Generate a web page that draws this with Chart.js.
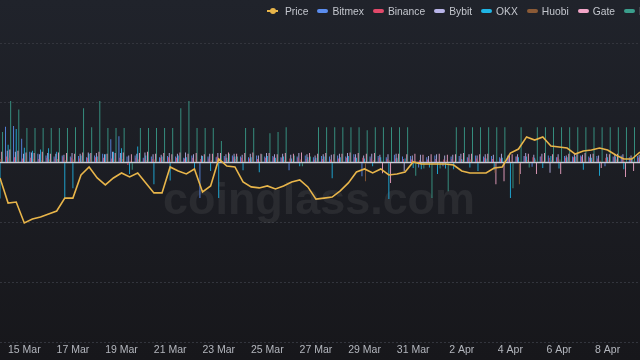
<!DOCTYPE html>
<html>
<head>
<meta charset="utf-8">
<script src="https://cdn.jsdelivr.net/npm/chart.js@4.4.1/dist/chart.umd.min.js"></script>
<style>
  html, body { margin: 0; padding: 0; }
  body {
    width: 640px; height: 360px; overflow: hidden;
    background: linear-gradient(#20232b, #17171b);
    font-family: "Liberation Sans", Arial, sans-serif;
  }
  #wrap { position: relative; width: 640px; height: 360px; }
  #legend {
    position: absolute; left: 267px; top: 3px; width: 373px; height: 16px;
    overflow: hidden; display: flex; align-items: center;
    font-size: 10.3px; color: #c3c6cd; white-space: nowrap;
  }
  .item { flex: none; display: flex; align-items: center; margin-right: 9px; }
  .box { width: 11px; height: 4px; border-radius: 2px; margin-right: 4px; }
  .pline { position: relative; width: 11px; height: 2px; margin-right: 7px; }
  .pline::after {
    content: ""; position: absolute; left: 3px; top: -2px; width: 6px; height: 6px;
    border-radius: 50%; background: inherit;
  }
</style>
</head>
<body>
<div id="wrap">
  <canvas id="graph"></canvas>
  <div id="legend"></div>
</div>
<script>
// 8時間ごとの区切り（14 Mar 00:00 から）
const startDate = new Date(2024, 2, 14);
const points = 80;
const categories = Array.from({ length: points }, (_, i) => {
  const d = new Date(startDate.getTime() + i * 8 * 3600 * 1000);
  const mon = d.toLocaleString("en-GB", { month: "short" });
  return `${d.getDate()} ${mon} ${String(d.getHours()).padStart(2, "0")}:00`;
});

// x軸に出すラベル（2日おき）
const tickLabels = ["15 Mar", "17 Mar", "19 Mar", "21 Mar", "23 Mar", "25 Mar", "27 Mar",
  "29 Mar", "31 Mar", "2 Apr", "4 Apr", "6 Apr", "8 Apr"];

const price = [
  68230, 66970, 67020, 65970, 66170, 66270, 66420, 66570, 67220, 67220,
  68380, 68780, 68230, 67880, 68230, 68480, 68280, 68480, 67980, 67480,
  67480, 68780, 68580, 68430, 68680, 67530, 67830, 69180, 68830, 68780,
  68030, 67780, 67730, 67830, 67680, 67830, 68030, 68130, 67780, 67170,
  67220, 67270, 67580, 67980, 68530, 68680, 68480, 68680, 68380, 68430,
  68530, 69030, 68930, 68930, 68930, 68930, 68880, 68580, 68480, 68480,
  68480, 68730, 68780, 69480, 69680, 70290, 70130, 70290, 69830, 69780,
  69730, 69430, 69580, 69630, 69730, 69630, 69380, 69180, 69180, 69530
];

const bitmex = [
  0.0012, 0.0060, 0.0061, 0.0040, 0.0018, 0.0015, 0.0012, 0.0010, 0.0012, 0.0010,
  0.0011, 0.0009, 0.0012, 0.0015, 0.0039, 0.0044, 0.0010, 0.0012, 0.0008, 0.0010,
  0.0009, 0.0011, 0.0010, 0.0008, 0.0012, -0.0059, 0.0010, 0.0009, 0.0011, 0.0012,
  0.0010, 0.0009, 0.0012, 0.0010, 0.0011, 0.0009, -0.0013, 0.0010, 0.0012, 0.0009,
  0.0011, 0.0010, 0.0012, 0.0010, 0.0014, -0.0023, 0.0010, 0.0011, 0.0009, 0.0013,
  0.0010, 0.0011, -0.0008, 0.0009, 0.0012, -0.0006, 0.0010, 0.0011, 0.0009, 0.0012,
  0.0010, 0.0011, 0.0009, 0.0012, 0.0010, 0.0011, -0.0007, 0.0010, 0.0012, 0.0009,
  0.0011, 0.0010, 0.0012, 0.0010, 0.0011, -0.0006, 0.0010, 0.0012, 0.0009, 0.0011
];
const binance = [
  0.0008, 0.0010, 0.0009, 0.0007, 0.0008, 0.0006, 0.0008, 0.0007, 0.0009, 0.0008,
  0.0007, 0.0008, 0.0009, 0.0008, 0.0007, 0.0008, -0.0004, 0.0008, 0.0007, 0.0006,
  0.0008, 0.0009, 0.0008, 0.0007, 0.0008, 0.0006, 0.0007, 0.0010, 0.0008, 0.0009,
  0.0008, 0.0007, 0.0006, 0.0008, 0.0009, 0.0008, 0.0007, 0.0008, 0.0006, 0.0005,
  0.0006, 0.0005, 0.0007, 0.0008, 0.0009, 0.0008, 0.0007, 0.0008, 0.0006, 0.0007,
  0.0006, 0.0005, 0.0004, 0.0005, 0.0006, 0.0005, 0.0006, 0.0007, 0.0008, 0.0007,
  0.0008, 0.0006, 0.0007, 0.0009, 0.0010, 0.0011, 0.0009, 0.0010, 0.0008, 0.0009,
  0.0008, 0.0009, 0.0010, 0.0008, 0.0007, 0.0008, 0.0009, 0.0008, 0.0007, 0.0008
];
const bybit = [
  0.0016, 0.0020, 0.0018, 0.0015, 0.0017, 0.0014, 0.0016, 0.0015, 0.0013, 0.0016,
  0.0015, 0.0017, 0.0016, 0.0014, 0.0018, 0.0016, 0.0012, 0.0015, 0.0017, 0.0014,
  0.0013, 0.0016, 0.0015, 0.0017, 0.0014, 0.0012, 0.0015, 0.0016, 0.0014, 0.0015,
  0.0013, 0.0015, 0.0012, 0.0016, 0.0014, 0.0015, 0.0013, 0.0016, 0.0014, 0.0012,
  0.0014, 0.0013, 0.0015, 0.0016, 0.0014, 0.0012, 0.0015, 0.0013, 0.0014, 0.0015,
  -0.0014, 0.0012, 0.0013, 0.0011, 0.0014, 0.0012, 0.0013, 0.0015, 0.0014, 0.0012,
  0.0014, 0.0013, 0.0015, 0.0012, 0.0014, 0.0016, 0.0013, 0.0015, -0.0017, 0.0014,
  0.0012, 0.0015, 0.0013, 0.0014, 0.0012, 0.0015, 0.0013, 0.0014, 0.0012, 0.0013
];
const okx = [
  -0.0060, 0.0030, 0.0056, 0.0025, 0.0020, 0.0022, 0.0024, 0.0018, -0.0059, -0.0043,
  0.0012, 0.0015, 0.0010, 0.0014, 0.0018, 0.0024, -0.0019, 0.0027, 0.0012, -0.0036,
  0.0010, -0.0030, 0.0012, 0.0009, -0.0009, 0.0011, -0.0014, -0.0059, 0.0008, 0.0010,
  -0.0013, 0.0009, -0.0016, 0.0011, 0.0008, 0.0010, 0.0007, -0.0006, 0.0009, 0.0008,
  0.0010, -0.0026, 0.0009, 0.0011, 0.0008, 0.0007, -0.0006, 0.0009, -0.0061, 0.0008,
  0.0007, -0.0009, -0.0011, -0.0008, -0.0019, -0.0010, -0.0011, 0.0006, -0.0008, -0.0014,
  0.0007, -0.0012, 0.0008, -0.0059, 0.0009, 0.0010, 0.0008, -0.0009, 0.0011, -0.0010,
  0.0009, 0.0010, -0.0012, 0.0008, -0.0022, 0.0009, 0.0010, -0.0011, 0.0008, 0.0009
];
const huobi = [
  0.0006, 0.0008, 0.0010, 0.0005, 0.0006, 0.0004, 0.0005, 0.0006, 0.0004, 0.0005,
  0.0004, 0.0005, 0.0006, 0.0004, 0.0005, 0.0006, 0.0003, 0.0005, 0.0004, 0.0005,
  0.0004, 0.0005, 0.0006, 0.0004, 0.0005, 0.0003, 0.0004, 0.0005, 0.0004, 0.0006,
  0.0004, 0.0005, 0.0003, 0.0004, 0.0005, 0.0004, 0.0003, 0.0005, 0.0004, 0.0003,
  0.0004, 0.0003, 0.0005, 0.0004, 0.0003, -0.0031, 0.0004, 0.0003, 0.0004, 0.0005,
  0.0003, 0.0004, 0.0003, 0.0004, 0.0003, 0.0004, 0.0003, 0.0004, 0.0005, 0.0003,
  0.0004, -0.0017, 0.0003, 0.0004, -0.0036, 0.0004, 0.0005, 0.0003, 0.0004, 0.0005,
  0.0004, 0.0003, 0.0005, 0.0004, 0.0003, 0.0004, 0.0005, 0.0003, 0.0004, 0.0005
];
const gate = [
  0.0018, 0.0022, 0.0020, 0.0017, 0.0016, 0.0018, 0.0015, 0.0017, 0.0016, 0.0015,
  0.0017, 0.0016, 0.0018, 0.0015, 0.0016, 0.0017, 0.0014, 0.0016, 0.0018, 0.0015,
  0.0016, 0.0014, 0.0017, 0.0015, 0.0016, 0.0014, 0.0015, 0.0016, 0.0017, 0.0015,
  0.0016, 0.0017, 0.0015, 0.0016, 0.0014, 0.0016, 0.0015, 0.0017, 0.0016, 0.0015,
  0.0016, 0.0014, 0.0015, 0.0017, 0.0016, 0.0015, 0.0016, -0.0018, -0.0034, 0.0015,
  0.0014, 0.0015, 0.0013, 0.0014, 0.0015, 0.0013, 0.0014, 0.0016, 0.0015, 0.0014,
  0.0015, -0.0036, -0.0031, 0.0014, -0.0019, 0.0015, -0.0019, 0.0016, 0.0014, -0.0019,
  0.0015, 0.0014, 0.0016, 0.0015, -0.0009, 0.0014, 0.0015, -0.0024, -0.0014, 0.0015
];
// 凡例の右端で切れている取引所（緑）
const bitget = [
  0.0051, 0.0103, 0.0089, 0.0058, 0.0058, 0.0058, 0.0058, 0.0058, 0.0058, 0.0059,
  0.0091, 0.0059, 0.0103, 0.0058, 0.0058, 0.0058, -0.0012, 0.0058, 0.0058, 0.0058,
  0.0058, 0.0058, 0.0091, 0.0103, 0.0058, 0.0058, 0.0058, 0.0036, 0.0015, 0.0010,
  0.0058, 0.0058, 0.0014, 0.0049, 0.0051, 0.0059, 0.0012, -0.0006, 0.0010, 0.0059,
  0.0059, 0.0059, 0.0059, 0.0059, 0.0059, 0.0054, 0.0059, 0.0059, 0.0059, 0.0059,
  0.0059, -0.0022, -0.0010, -0.0059, -0.0010, -0.0048, 0.0059, 0.0059, 0.0059, 0.0059,
  0.0059, 0.0059, 0.0059, -0.0043, 0.0059, -0.0008, 0.0059, 0.0059, 0.0059, 0.0059,
  0.0059, 0.0059, 0.0059, 0.0059, 0.0059, 0.0059, 0.0059, 0.0059, 0.0059, 0.0059
];

const barSeries = [
  { label: "Bitmex", color: "#5b8def", data: bitmex },
  { label: "Binance", color: "#e2496a", data: binance },
  { label: "Bybit", color: "#b8b4e8", data: bybit },
  { label: "OKX", color: "#1fb5e5", data: okx },
  { label: "Huobi", color: "#8b5a36", data: huobi },
  { label: "Gate", color: "#f3a6c8", data: gate },
  { label: "Bitget", color: "#3a9e8c", data: bitget },
];
const priceColor = "#e8b54a";

// 凡例（HTML、右端ではみ出した分は切る）
const legend = document.getElementById("legend");
legend.innerHTML =
  `<div class="item"><span class="pline" style="background:${priceColor}"></span>Price</div>` +
  barSeries.map((s) => `<div class="item"><span class="box" style="background:${s.color}"></span>${s.label}</div>`).join("");

const background = {
  id: "background",
  beforeDatasetsDraw(chart) {
    const { ctx, chartArea } = chart;
    const y = chart.scales.y;
    ctx.save();
    // 透かし
    ctx.fillStyle = "rgba(255,255,255,0.065)";
    ctx.textAlign = "center";
    ctx.textBaseline = "alphabetic";
    ctx.font = 'bold 100px "Liberation Sans", Arial, sans-serif';
    const w = ctx.measureText("coinglass.com").width;
    ctx.font = `bold ${(312 / w) * 100}px "Liberation Sans", Arial, sans-serif`;
    ctx.fillText("coinglass.com", 319, 214);
    // ゼロライン
    const zy = y.getPixelForValue(0);
    ctx.strokeStyle = "#c9ccd3";
    ctx.lineWidth = 1.5;
    ctx.beginPath();
    ctx.moveTo(chartArea.left, zy);
    ctx.lineTo(chartArea.right, zy);
    ctx.stroke();
    ctx.restore();
  },
};

const data = {
  labels: categories,
  datasets: [
    {
      type: "line",
      label: "Price",
      data: price,
      yAxisID: "y1",
      borderColor: priceColor,
      borderWidth: 1.6,
      pointRadius: 0,
      tension: 0,
      order: 0,
    },
    ...barSeries.map((s) => ({
      type: "bar",
      label: s.label,
      data: s.data,
      yAxisID: "y",
      backgroundColor: s.color,
      borderWidth: 0,
      categoryPercentage: 0.75,
      barPercentage: 1,
      order: 1,
    })),
  ],
};

const config = {
  type: "bar",
  data: data,
  options: {
    responsive: true,
    maintainAspectRatio: false,
    animation: false,
    layout: { padding: { top: 43, bottom: 1.4, left: 0, right: 0 } },
    scales: {
      x: {
        offset: false,
        grid: { display: false, drawTicks: false },
        border: { display: false },
        ticks: {
          autoSkip: false,
          maxRotation: 0,
          minRotation: 0,
          padding: 2,
          color: "#b3b6bd",
          font: { family: '"Liberation Sans", Arial, sans-serif', size: 10.5 },
          callback: (v, i) => {
            const k = (i - 3) / 6;
            return Number.isInteger(k) && tickLabels[k] ? tickLabels[k] : null;
          },
        },
      },
      y: {
        min: -0.03,
        max: 0.02,
        ticks: { display: false, stepSize: 0.01 },
        grid: { color: "#33353d", drawTicks: false },
        border: { display: false, dash: [2, 2] },
      },
      y1: {
        display: false,
        min: 60000,
        max: 75000,
      },
    },
    plugins: {
      legend: { display: false },
      tooltip: { enabled: false },
    },
  },
  plugins: [background],
};

let myChart = new Chart(document.getElementById("graph"), config);
</script>
</body>
</html>
